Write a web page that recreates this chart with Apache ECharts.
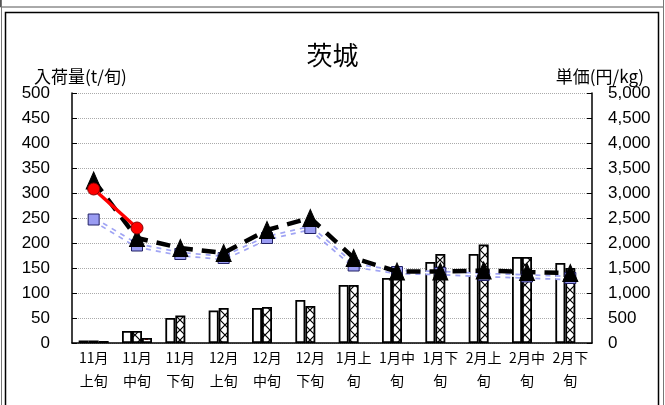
<!DOCTYPE html>
<html><head><meta charset="utf-8">
<script src="https://cdn.jsdelivr.net/npm/echarts@6/dist/echarts.min.js"></script>
<style>html,body{margin:0;padding:0;background:#fff}#c{width:665px;height:405px}</style>
</head><body><div id="c"></div>
<script>
const categories = ['11月\n上旬','11月\n中旬','11月\n下旬','12月\n上旬','12月\n中旬','12月\n下旬','1月上\n旬','1月中\n旬','1月下\n旬','2月上\n旬','2月中\n旬','2月下\n旬'];
const volPrev   = [5, 24, 50, 65, 70, 86, 116, 130, 162, 178, 172, 160];
const volAvg    = [5, 24, 55, 70, 72, 74, 116, 148, 178, 197, 172, 150];
const volNow    = [4, 10, null, null, null, null, null, null, null, null, null, null];
const pricePrev = [3250, 2100, 1900, 1800, 2260, 2500, 1700, 1430, 1430, 1450, 1420, 1400];
const priceAvg  = [2470, 1950, 1780, 1700, 2100, 2300, 1550, 1420, 1400, 1360, 1330, 1300];
const priceNow  = [3080, 2300, null, null, null, null, null, null, null, null, null, null];
const leftTicks = [0, 50, 100, 150, 200, 250, 300, 350, 400, 450, 500];

function hatch(){
  const c = document.createElement('canvas'); c.width = 10; c.height = 10;
  const g = c.getContext('2d'); g.fillStyle = '#fff'; g.fillRect(0,0,10,10);
  g.strokeStyle = '#000'; g.lineWidth = 1.2;
  g.beginPath(); g.moveTo(0,0); g.lineTo(10,10); g.moveTo(10,0); g.lineTo(0,10); g.stroke();
  return c;
}
function dots(){
  const c = document.createElement('canvas'); c.width = 6; c.height = 6;
  const g = c.getContext('2d'); g.fillStyle = '#fff'; g.fillRect(0,0,6,6);
  g.fillStyle = '#e00'; g.fillRect(1,1,3,3);
  return c;
}
const font = '"Noto Sans CJK JP", "Liberation Sans", sans-serif';
const chart = echarts.init(document.getElementById('c'), null, {renderer:'canvas'});
chart.setOption({
  animation:false,
  textStyle:{fontFamily:font},
  title:{text:'茨城', left:'center', top:37, textStyle:{fontSize:26, fontWeight:'normal', color:'#000', fontFamily:font}},
  grid:{left:72, right:73, top:93, bottom:62},
  xAxis:{type:'category', data:categories,
    axisLine:{lineStyle:{color:'#000', width:1.5}},
    axisTick:{inside:true, length:4, lineStyle:{color:'#000'}},
    axisLabel:{color:'#000', fontSize:14, lineHeight:23, margin:3, interval:0, fontFamily:font}},
  yAxis:[
    {type:'value', min:0, max:500, interval:50, name:'入荷量(t/旬)', nameLocation:'end', nameGap:8,
     nameTextStyle:{color:'#000', fontSize:17, align:'left', padding:[0,0,0,-38], fontFamily:font},
     axisLine:{show:true, lineStyle:{color:'#000', width:1.5}},
     axisTick:{show:true, inside:true, length:5, lineStyle:{color:'#000'}},
     axisLabel:{color:'#000', fontSize:17, margin:22, fontFamily:'"Liberation Sans", sans-serif',
       formatter:v=>leftTicks.includes(v)?String(v):''},
     splitLine:{show:true, lineStyle:{color:'#aaa', type:'dotted', width:1}}},
    {type:'value', min:0, max:5000, interval:500, name:'単価(円/kg)', nameLocation:'end', nameGap:8,
     nameTextStyle:{color:'#000', fontSize:17, align:'right', padding:[0,-52,0,0], fontFamily:font},
     axisLine:{show:true, lineStyle:{color:'#000', width:1.5}},
     axisTick:{show:true, inside:true, length:5, lineStyle:{color:'#000'}},
     axisLabel:{color:'#000', fontSize:17, margin:16, fontFamily:'"Liberation Sans", sans-serif',
       formatter:v=>v.toLocaleString('en-US')},
     splitLine:{show:false}}
  ],
  series:[
    {type:'bar', data:volPrev, barWidth:10, barGap:'0%', itemStyle:{color:'#fff', borderColor:'#000', borderWidth:1.8}, z:2},
    {type:'bar', data:volAvg, barWidth:10, barGap:'0%', itemStyle:{color:{image:hatch(), repeat:'repeat'}, borderColor:'#000', borderWidth:1.8}, z:2},
    {type:'bar', data:volNow, barWidth:10, barGap:'0%', itemStyle:{color:{image:dots(), repeat:'repeat'}, borderColor:'#000', borderWidth:1.8}, z:2},
    {type:'line', yAxisIndex:1, data:priceAvg, symbol:'none', silent:true,
     lineStyle:{color:'#a0a4f4', width:5, type:'dotted'}, z:3},
    {type:'line', yAxisIndex:1, data:priceAvg, symbol:'rect', symbolSize:11,
     itemStyle:{color:'#9a9cf2', borderColor:'#222266', borderWidth:1},
     lineStyle:{color:'#fff', width:1.5}, z:4},
    {type:'line', yAxisIndex:1, data:pricePrev, symbol:'triangle', symbolSize:[15,17],
     itemStyle:{color:'#000', borderColor:'#000'},
     lineStyle:{color:'#000', width:4.5, type:[14,9]}, z:5},
    {type:'line', yAxisIndex:1, data:priceNow, symbol:'circle', symbolSize:12,
     itemStyle:{color:'#f00', borderColor:'#800', borderWidth:1},
     lineStyle:{color:'#f00', width:3.5}, z:6}
  ],
  graphic:[
    {type:'rect', shape:{x:0.5, y:-5, width:663, height:12}, style:{fill:null, stroke:'#555', lineWidth:1}},
    {type:'line', shape:{x1:1.5, y1:0, x2:1.5, y2:405}, style:{stroke:'#777', lineWidth:1}},
    {type:'line', shape:{x1:663.5, y1:0, x2:663.5, y2:405}, style:{stroke:'#777', lineWidth:1}},
    {type:'rect', shape:{x:5.5, y:12.5, width:653, height:398}, style:{fill:null, stroke:'#000', lineWidth:1.5}}
  ]
});
</script></body></html>
